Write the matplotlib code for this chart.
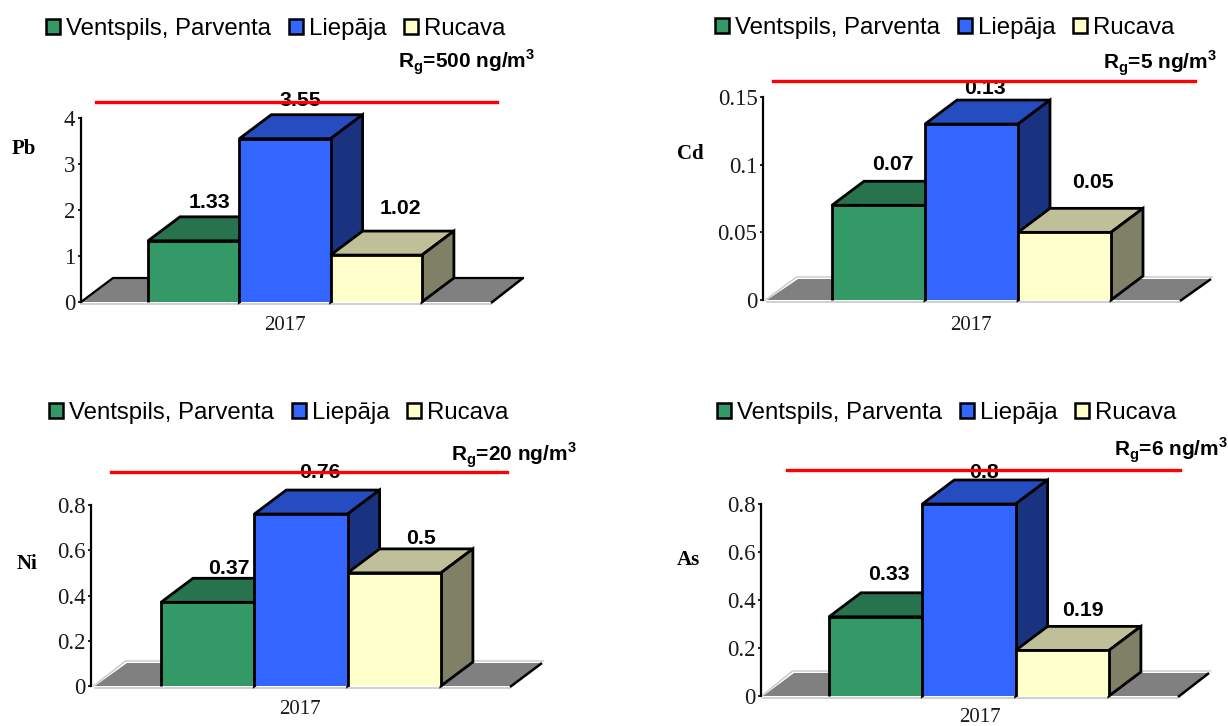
import matplotlib
matplotlib.use("Agg")
import matplotlib.pyplot as plt
from matplotlib.lines import Line2D
from matplotlib.patches import Patch, Polygon

# Station names and measured annual means
stations = ["Ventspils, Parventa", "Liepāja", "Rucava"]
year = "2017"
pb_values = [1.33, 3.55, 1.02]
cd_values = [0.07, 0.13, 0.05]
ni_values = [0.37, 0.76, 0.5]
as_values = [0.33, 0.8, 0.19]
pb_ticks = [0, 1, 2, 3, 4]
cd_ticks = [0, 0.05, 0.1, 0.15]
ni_ticks = [0, 0.2, 0.4, 0.6, 0.8]
as_ticks = [0, 0.2, 0.4, 0.6, 0.8]

W, H = 1228, 726
SANS = "Liberation Sans"
SERIF = "Liberation Serif"

FRONT = ["#339966", "#3366FF", "#FFFFCC"]
TOP = ["#26734D", "#264DBF", "#BFBF99"]
SIDE = ["#1A4D33", "#1A3380", "#808066"]
FLOOR = "#808080"
EDGE_LIGHT = "#C8C8C8"

plt.rcParams["mathtext.bf"] = "Liberation Sans:bold"
fig = plt.figure(figsize=(W / 100, H / 100), dpi=100, facecolor="white")


def fx(px):
    return px / W


def fy(py):
    return 1 - py / H


# Page layout of the four panels, in pixels
panels = [
    dict(name="Pb", values=pb_values, ticks=pb_ticks, axis_x=81, y0=302, ytop=118, bar_x=148, bar_w=91.3,
         depth=(32, 24), floor_span=(81, 491), red=(96, 497, 102), limit=500, limit_xy=(535, 62),
         name_xy=(24, 149), year_xy=(285, 325), legend_xy=(46, 29), dark_floor=True,
         label_xy=[(209, 202), (300, 101), (400, 209)]),
    dict(name="Cd", values=cd_values, ticks=cd_ticks, axis_x=763, y0=300, ytop=97, bar_x=832, bar_w=93,
         depth=(31, 21), floor_span=(767, 1180), red=(773, 1195, 81), limit=5, limit_xy=(1217, 63),
         name_xy=(690, 154), year_xy=(971, 325), legend_xy=(715, 28), dark_floor=False,
         label_xy=[(893, 165), (985, 89), (1093, 182)]),
    dict(name="Ni", values=ni_values, ticks=ni_ticks, axis_x=91, y0=686, ytop=505, bar_x=161, bar_w=93.3,
         depth=(32, 23), floor_span=(95, 510), red=(111, 507, 472), limit=20, limit_xy=(577, 455),
         name_xy=(27, 564), year_xy=(300, 709), legend_xy=(49, 413), dark_floor=False,
         label_xy=[(229, 568), (320, 472), (421, 539)]),
    dict(name="As", values=as_values, ticks=as_ticks, axis_x=761, y0=696, ytop=504, bar_x=829, bar_w=93.3,
         depth=(31, 23), floor_span=(763, 1178), red=(787, 1180, 470), limit=6, limit_xy=(1228, 450),
         name_xy=(688, 560), year_xy=(980, 718), legend_xy=(717, 413), dark_floor=False,
         label_xy=[(889, 575), (984, 472), (1083, 610)]),
]

BAR_DEPTH = (32, 24)

for p in panels:
    floor_left, floor_right = p["floor_span"]
    ax = fig.add_axes([fx(p["axis_x"]), fy(p["y0"]), (floor_right - p["axis_x"]) / W, (p["y0"] - p["ytop"]) / H])
    ax.patch.set_alpha(0)
    w = p["bar_w"]
    # one x unit is one bar width, starting half a bar left of the first category
    ax.set_xlim((p["axis_x"] - p["bar_x"]) / w - 0.5, (floor_right - p["bar_x"]) / w - 0.5)
    ax.set_ylim(p["ticks"][0], p["ticks"][-1])
    y_per_px = p["ticks"][-1] / (p["y0"] - p["ytop"])
    fdx = p["depth"][0] / w
    fdy = p["depth"][1] * y_per_px
    dx = BAR_DEPTH[0] / w
    dy = BAR_DEPTH[1] * y_per_px
    x_left = (floor_left - p["bar_x"]) / w - 0.5
    x_right = (floor_right - p["bar_x"]) / w - 0.5
    gap_y = 2 * y_per_px
    gap_x = 1.5 / w

    # grey floor: light rim on the back, left and front, black on the right
    ax.add_patch(Polygon([(x_left, 0), (x_left + fdx, fdy), (x_right + fdx, fdy), (x_right, 0)],
                         closed=True, fc=FLOOR, ec="none", clip_on=False, zorder=1))
    back_color = "black" if p["dark_floor"] else EDGE_LIGHT
    rim_y = 0 if p["dark_floor"] else gap_y
    rim_x = 0 if p["dark_floor"] else gap_x
    ax.plot([x_left - rim_x, x_left - rim_x + fdx, x_right + fdx + rim_x],
            [0, fdy + rim_y, fdy + rim_y], color=back_color, lw=1.6 if p["dark_floor"] else 1.0,
            clip_on=False, zorder=1.5, solid_joinstyle="miter")
    ax.plot([x_left, x_right], [-gap_y * 0.8, -gap_y * 0.8], color=EDGE_LIGHT, lw=1.2,
            clip_on=False, zorder=1.5)
    ax.plot([x_right, x_right + fdx], [-gap_y * 0.5, fdy], color="black", lw=1.8,
            clip_on=False, zorder=1.5, solid_capstyle="butt")

    # bars, left to right so each one overlaps the side of its neighbour
    for i, v in enumerate(p["values"]):
        l, r = i - 0.5, i + 0.5
        z = 2 + i
        style = dict(closed=True, ec="black", lw=2.0, clip_on=False, zorder=z, joinstyle="miter")
        ax.add_patch(Polygon([(l, v), (l + dx, v + dy), (r + dx, v + dy), (r, v)], fc=TOP[i], **style))
        ax.add_patch(Polygon([(r, 0), (r + dx, dy), (r + dx, v + dy), (r, v)], fc=SIDE[i], **style))
        ax.add_patch(Polygon([(l, 0), (l, v), (r, v), (r, 0)], fc=FRONT[i], ec="none", clip_on=False, zorder=z))
        ax.plot([l, l, r, r], [0, v, v, 0], color="black", lw=2.0, clip_on=False, zorder=z,
                solid_joinstyle="miter", solid_capstyle="butt")
        lx, ly = p["label_xy"][i]
        fig.text(fx(lx), fy(ly), f"{v:g}", ha="center", va="center", family=SANS,
                 fontsize=15.3, fontweight="bold", color="black", zorder=8)

    for side in ("top", "right", "bottom"):
        ax.spines[side].set_visible(False)
    ax.spines["left"].set_linewidth(1.6)
    ax.set_xticks([])
    ax.set_yticks(p["ticks"])
    ax.set_yticklabels([f"{t:g}" for t in p["ticks"]], family=SERIF, fontsize=16.5, color="#1A1A1A")
    ax.tick_params(axis="y", direction="out", length=2.5, width=1.2, pad=1.5)

    # permissible limit line and its note
    x0, x1, ry = p["red"]
    fig.add_artist(Line2D([fx(x0), fx(x1)], [fy(ry), fy(ry)], color="#FF0000", lw=2.4, zorder=20))
    fig.text(fx(p["limit_xy"][0]), fy(p["limit_xy"][1]),
             r"R$_{\mathbf{g}}$=" + f"{p['limit']} ng/m" + r"$^{\mathbf{3}}$",
             ha="right", va="center", family=SANS, fontsize=15, fontweight="bold", math_fontfamily="custom")

    fig.text(fx(p["name_xy"][0]), fy(p["name_xy"][1]), p["name"], ha="center", va="center",
             family=SERIF, fontsize=15, fontweight="bold")
    fig.text(fx(p["year_xy"][0]), fy(p["year_xy"][1]), year, ha="center", va="center",
             family=SERIF, fontsize=15, color="#1A1A1A")

    handles = [Patch(fc=FRONT[i], ec="black", lw=1.8) for i in range(3)]
    fig.legend(handles, stations, loc="center left", bbox_to_anchor=(fx(p["legend_xy"][0]), fy(p["legend_xy"][1])),
               ncol=3, frameon=False, prop={"family": SANS, "size": 17.3}, borderpad=0, borderaxespad=0,
               handlelength=0.58, handleheight=0.58, handletextpad=0.25, columnspacing=0.74)

fig.savefig("out.png", dpi=100)
